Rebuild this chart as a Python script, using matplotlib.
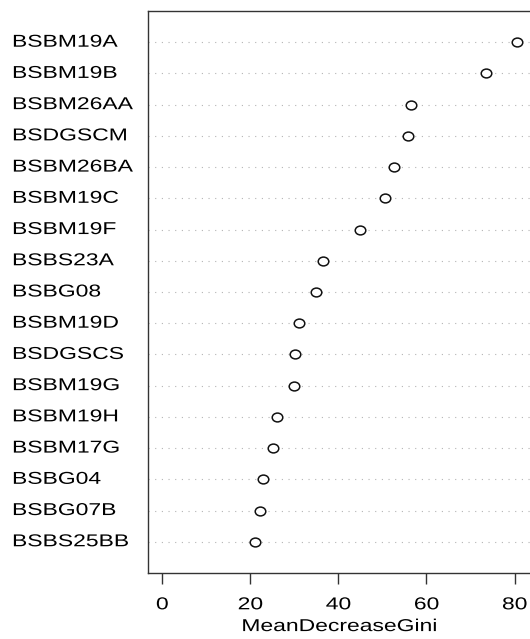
import matplotlib
matplotlib.use("Agg")
from matplotlib import pyplot as plt
from matplotlib import patheffects
from matplotlib.path import Path
from matplotlib.transforms import Affine2D, blended_transform_factory

features = ["BSBM19A", "BSBM19B", "BSBM26AA", "BSDGSCM", "BSBM26BA",
            "BSBM19C", "BSBM19F", "BSBS23A", "BSBG08", "BSBM19D",
            "BSDGSCS", "BSBM19G", "BSBM19H", "BSBM17G", "BSBG04",
            "BSBG07B", "BSBS25BB"]
gini = [80.5, 73.6, 56.4, 55.7, 52.7,
        50.5, 45.0, 36.6, 35.0, 31.1,
        30.2, 30.0, 26.1, 25.2, 23.0,
        22.3, 21.1]
xticks = [0, 20, 40, 60, 80]

# The source image was stretched sideways, so text and circles are wider than tall
STRETCH = 1.33


class Stretch(patheffects.AbstractPathEffect):
    # Widens the glyphs of a text, around its left edge or its centre
    def __init__(self, sx, anchor="left"):
        super().__init__()
        self.sx = sx
        self.anchor = anchor

    def draw_path(self, renderer, gc, tpath, affine, rgbFace=None):
        x0 = 0.0
        if self.anchor == "center" and len(tpath.vertices):
            xs = tpath.vertices[:, 0]
            x0 = (xs.min() + xs.max()) / 2
        widen = Affine2D().translate(-x0, 0).scale(self.sx, 1).translate(x0, 0)
        renderer.draw_path(gc, tpath, widen + affine, rgbFace)


plt.rcParams['font.family'] = ['Liberation Sans', 'DejaVu Sans']
FS = 12.4

fig = plt.figure(figsize=(5.3, 6.39), dpi=100)
ax = fig.add_axes([0.2792, 0.1033, 0.7226, 0.8795])

n = len(features)
ypos = list(range(n, 0, -1))

# Dotted guide line for each variable, then the open circles
for y in ypos:
    ax.axhline(y, color="#b4b4b4", linestyle=(0, (1, 5)), linewidth=0.8, zorder=1)

circle = Path.unit_circle()
oval = Path(circle.vertices * [STRETCH * 0.9, 1.0], circle.codes)
ax.plot(gini, ypos, linestyle="none", marker=oval, markersize=7.6,
        markerfacecolor="white", markeredgecolor="#111111", markeredgewidth=1.1,
        zorder=3)

xmax = max(gini)
pad = 0.04 * xmax
ax.set_xlim(-pad, xmax + pad)
ax.set_ylim(0, n + 1)

ax.set_yticks([])
ax.set_xticks(xticks)
ax.set_xticklabels([str(t) for t in xticks], fontsize=FS)
for lab in ax.get_xticklabels():
    lab.set_path_effects([Stretch(STRETCH, "center")])
ax.tick_params(axis="x", length=8, width=1, pad=9.5, color="#333333")
ax.set_xlabel("MeanDecreaseGini", fontsize=FS,
              path_effects=[Stretch(STRETCH, "center")])
ax.xaxis.set_label_coords(0.5, -0.082)

for side in ax.spines.values():
    side.set_linewidth(1)
    side.set_color("#333333")

# Labels are left aligned like R's dotchart
label_tf = blended_transform_factory(fig.transFigure, ax.transData)
for name, y in zip(features, ypos):
    ax.text(12 / 530, y, name, transform=label_tf, ha="left", va="center",
            fontsize=FS, path_effects=[Stretch(STRETCH, "left")])

fig.savefig("out.png", dpi=100)
